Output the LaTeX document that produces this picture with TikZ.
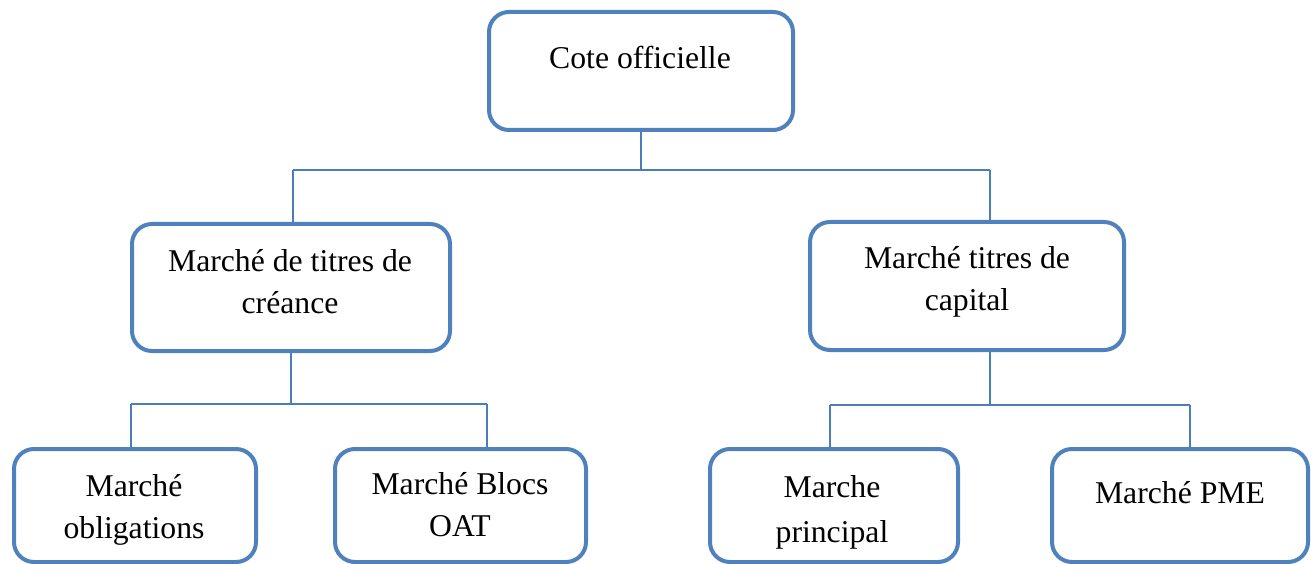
\documentclass[tikz,border=0pt]{standalone}
\usepackage{fontspec}
\setmainfont{Liberation Serif}
\definecolor{boxblue}{HTML}{4F81BD}
\definecolor{lineblue}{HTML}{4A7EBB}
\tikzset{
  orgbox/.style={draw=boxblue, line width=4pt, rounded corners=20pt, fill=white, inner sep=0pt},
  conn/.style={draw=lineblue, line width=1.5pt},
  lbl/.style={align=center, inner sep=0pt, font=\fontsize{31.7}{42}\selectfont}
}
\begin{document}
\begin{tikzpicture}[x=1pt,y=1pt]
\useasboundingbox (0,0) rectangle (1313,563);
\clip (0,0) rectangle (1313,563);
% boxes
\node[orgbox, minimum width=304pt, minimum height=118pt] (top) at (641,492) {};
\node[orgbox, minimum width=318pt, minimum height=127pt] (lm) at (291,275.5) {};
\node[orgbox, minimum width=314pt, minimum height=128pt] (rm) at (967,277) {};
\node[orgbox, minimum width=242pt, minimum height=113pt] (b1) at (135,57.5) {};
\node[orgbox, minimum width=251pt, minimum height=113pt] (b2) at (460.5,57.5) {};
\node[orgbox, minimum width=248pt, minimum height=113pt] (b3) at (834,57.5) {};
\node[orgbox, minimum width=256pt, minimum height=113pt] (b4) at (1180,57.5) {};
% labels
\node[lbl] (ttop) at (640,506) {Cote officielle};
\node[lbl] (tlm) at (290,281) {Marché de titres de\\créance};
\node[lbl] (trm) at (967,281) {Marché titres de\\capital};
\node[lbl] (tb1) at (134,53) {Marché\\obligations};
\node[lbl] (tb2) at (460,58) {Marché Blocs\\OAT};
\node[lbl, font=\fontsize{31.7}{45}\selectfont] (tb3) at (832,51) {Marche\\principal};
\node[lbl] (tb4) at (1180,70) {Marché PME};
% junction coordinates
\coordinate (j1) at (293,393);
\coordinate (j2) at (990,393);
\coordinate (k1) at (131,159);
\coordinate (k2) at (487,159);
\coordinate (m1) at (830,158);
\coordinate (m2) at (1190,158);
% connectors
\draw[conn] (top.south) -- (top.south |- j1);
\draw[conn] (j1) -- (j2);
\draw[conn] (j1) -- (j1 |- lm.north);
\draw[conn] (j2) -- (j2 |- rm.north);
\draw[conn] (lm.south) -- (lm.south |- k1);
\draw[conn] (k1) -- (k2);
\draw[conn] (k1) -- (k1 |- b1.north);
\draw[conn] (k2) -- (k2 |- b2.north);
\draw[conn] (rm.south -| j2) -- (m1 -| j2);
\draw[conn] (m1) -- (m2);
\draw[conn] (m1) -- (m1 |- b3.north);
\draw[conn] (m2) -- (m2 |- b4.north);
\end{tikzpicture}
\end{document}
